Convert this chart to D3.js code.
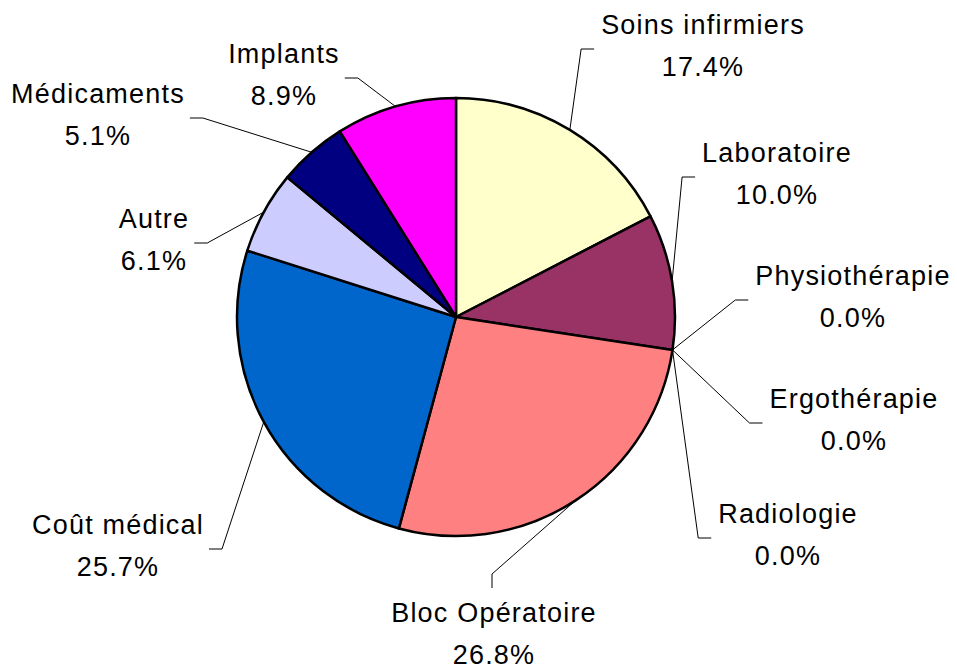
<!DOCTYPE html>
<html>
<head>
<meta charset="utf-8">
<script src="https://cdn.jsdelivr.net/npm/d3@7"></script>
<style>
  body { margin: 0; background: #fff; }
  svg text { font-family: "Liberation Sans", Arial, sans-serif; font-size: 27px; letter-spacing: 1.2px; fill: #000; }
</style>
</head>
<body>
<div id="chart"></div>
<script>
// categories and values, clockwise from 12 o'clock
const categories = ["Soins infirmiers", "Laboratoire", "Physiothérapie", "Ergothérapie", "Radiologie",
    "Bloc Opératoire", "Coût médical", "Autre", "Médicaments", "Implants"];
const values = [17.4, 10.0, 0, 0, 0, 26.8, 25.7, 6.1, 5.1, 8.9];
const colors = ["#ffffcc", "#993366", "#ff8080", "#ccffff", "#ffcc99",
    "#ff8080", "#0066cc", "#ccccff", "#000080", "#ff00ff"];

// where each label block sits (centre of first line)
const labelPos = [[703, 24], [777, 152], [853, 275], [854, 398], [788, 513],
    [494, 612], [118, 524], [154, 218], [98, 93], [284, 53]];

var width = 957;
var height = 668;
var cx = 456, cy = 317, r = 219;

const svg = d3.select("#chart").append("svg")
    .attr("width", width)
    .attr("height", height);

const total = d3.sum(values);
const pie = d3.pie().sort(null).value(d => d);
const arcs = pie(values);
const arc = d3.arc().innerRadius(0).outerRadius(r);

const g = svg.append("g").attr("transform", `translate(${cx},${cy})`);

// slices
g.selectAll("path.slice")
    .data(arcs.filter(d => d.value > 0))
    .enter()
    .append("path")
    .attr("class", "slice")
    .attr("d", arc)
    .attr("fill", d => colors[d.index])
    .attr("stroke", "#000")
    .attr("stroke-width", 2.5)
    .attr("stroke-linejoin", "round");

// labels
const fmt = d3.format(".1f");
const labels = svg.selectAll("g.label")
    .data(arcs)
    .enter()
    .append("g")
    .attr("class", "label");

labels.each(function (d, i) {
    const [lx, ly] = labelPos[i];
    const t = d3.select(this).append("text")
        .attr("text-anchor", "middle")
        .attr("x", lx)
        .attr("y", ly + 9.5);
    t.append("tspan").attr("x", lx).text(categories[i]);
    t.append("tspan").attr("x", lx).attr("dy", 42).text(fmt(d.value / total * 100) + "%");

    const bb = this.getBBox();
    // leader line start on the rim, at the middle angle
    const mid = (d.startAngle + d.endAngle) / 2;
    const sx = cx + r * Math.sin(mid);
    const sy = cy - r * Math.cos(mid);
    let ex, ey, kx, ky;
    if (ly > cy + r) {
        ex = lx - 2; ey = ly - 24;
        kx = ex; ky = ey - 14;
    } else if (lx > cx) {
        ex = bb.x - 7; ey = ly + 25;
        kx = ex - 13; ky = ey;
    } else {
        ex = bb.x + bb.width + 5; ey = ly + 25;
        kx = ex + 13; ky = ey;
    }
    d3.select(this).append("polyline")
        .attr("points", [[sx, sy], [kx, ky], [ex, ey]].map(p => p.join(",")).join(" "))
        .attr("fill", "none")
        .attr("stroke", "#000")
        .attr("stroke-width", 1);
});
</script>
</body>
</html>
